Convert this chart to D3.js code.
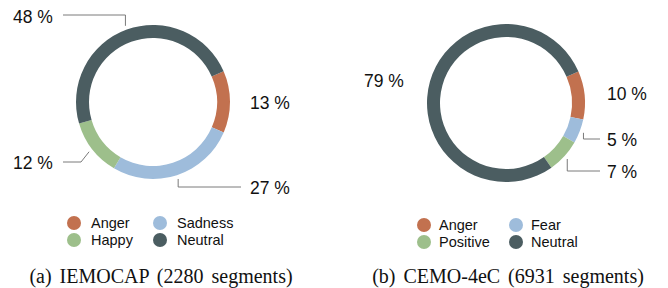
<!DOCTYPE html>
<html>
<head>
<meta charset="utf-8">
<script src="https://cdn.jsdelivr.net/npm/d3@7"></script>
<style>
  body { margin: 0; background: #fff; }
  svg { display: block; }
</style>
</head>
<body>
<svg id="chart" width="668" height="288"></svg>
<script>
// data
let iemocapLabels = ["Anger", "Sadness", "Happy", "Neutral"];
let iemocapValues = [13, 27, 12, 48];
let cemoLabels = ["Anger", "Fear", "Positive", "Neutral"];
let cemoValues = [10, 5, 7, 79];
let captions = ["(a) IEMOCAP (2280 segments)", "(b) CEMO-4eC (6931 segments)"];

let colors = ["#c2714f", "#9ebcdb", "#9dbf8b", "#4b5d61"];

let svg = d3.select("#chart");

function drawDonut(opt) {
    let g = svg.append("g");

    let pie = d3.pie()
        .sort(null)
        .value(d => d.value)
        .startAngle(opt.start)
        .endAngle(opt.start + 2 * Math.PI);

    let arc = d3.arc()
        .innerRadius(opt.r - 13)
        .outerRadius(opt.r);

    let data = opt.labels.map((l, i) => ({ label: l, value: opt.values[i], color: colors[i] }));
    let arcs = pie(data);

    let ring = g.append("g")
        .attr("transform", "translate(" + opt.cx + "," + opt.cy + ")");

    ring.selectAll("path")
        .data(arcs)
        .join("path")
        .attr("d", arc)
        .style("fill", d => d.data.color);

    // leader lines + labels
    arcs.forEach((a, i) => {
        let p = opt.place[i];
        let mid = (a.startAngle + a.endAngle) / 2;
        let ax = opt.cx + Math.sin(mid) * (opt.r + 4);
        let ay = opt.cy - Math.cos(mid) * (opt.r + 4);
        let pts = null;
        if (p.leader === "vh") {
            pts = [[ax, ay], [ax, p.ly], [p.lx, p.ly]];
        } else if (p.leader === "dh") {
            pts = [[ax, ay], [p.ex, p.ly], [p.lx, p.ly]];
        }
        if (pts) {
            g.append("path")
                .attr("d", d3.line()(pts))
                .style("fill", "none")
                .style("stroke", "#7a7a7a")
                .style("stroke-width", 1);
        }
        g.append("text")
            .attr("x", p.x)
            .attr("y", p.y)
            .attr("dy", "0.36em")
            .style("font-family", "'Liberation Sans', Arial, Helvetica, sans-serif")
            .style("font-size", "17.5px")
            .style("fill", "#111")
            .text(a.data.value + " %");
    });

    // legend, two columns: first/third in col 0, second/fourth in col 1
    let leg = g.append("g");
    data.forEach((d, i) => {
        let order = [[0, 0], [1, 0], [0, 1], [1, 1]][i];
        let x = opt.legX + order[0] * opt.legDx;
        let y = opt.legY + order[1] * 17;
        leg.append("circle")
            .attr("cx", x)
            .attr("cy", y)
            .attr("r", 7)
            .style("fill", d.color);
        leg.append("text")
            .attr("x", x + opt.legText)
            .attr("y", y)
            .attr("dy", "0.36em")
            .style("font-family", "'Liberation Sans', Arial, Helvetica, sans-serif")
            .style("font-size", "14.5px")
            .style("fill", "#111")
            .text(d.label);
    });

    svg.append("text")
        .attr("x", opt.capX)
        .attr("y", 283)
        .attr("text-anchor", "middle")
        .style("font-family", "'Liberation Serif', 'Times New Roman', serif")
        .style("font-size", "20px")
        .style("word-spacing", "3px")
        .style("fill", "#111")
        .text(opt.caption);
}

let startAngle = 66.5 * Math.PI / 180;

drawDonut({
    cx: 153, cy: 102, r: 77, start: startAngle,
    labels: iemocapLabels, values: iemocapValues,
    place: [
        { x: 250, y: 103 },
        { x: 250, y: 188, leader: "vh", ly: 187, lx: 241 },
        { x: 13, y: 163, leader: "dh", ly: 162, ex: 81, lx: 63 },
        { x: 13, y: 17, leader: "vh", ly: 15, lx: 63 }
    ],
    legX: 74, legY: 223, legDx: 86, legText: 17,
    capX: 161, caption: captions[0]
});

drawDonut({
    cx: 506, cy: 103, r: 79, start: startAngle,
    labels: cemoLabels, values: cemoValues,
    place: [
        { x: 607, y: 94 },
        { x: 607, y: 140, leader: "vh", ly: 139, lx: 600 },
        { x: 607, y: 172, leader: "vh", ly: 171, lx: 600 },
        { x: 364, y: 81 }
    ],
    legX: 424, legY: 225, legDx: 92, legText: 15,
    capX: 508, caption: captions[1]
});
</script>
</body>
</html>
